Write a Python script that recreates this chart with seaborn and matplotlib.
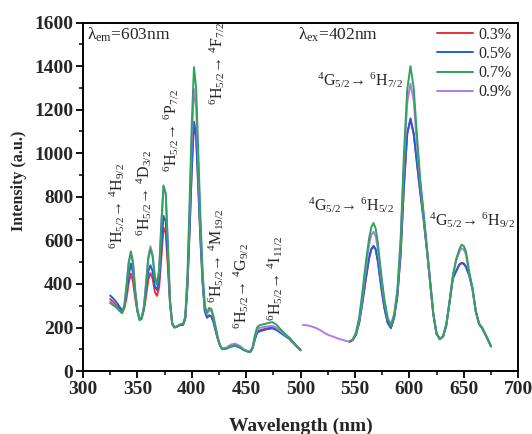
import matplotlib
matplotlib.use("Agg")
import matplotlib.pyplot as plt
import pandas as pd
import seaborn as sns
from matplotlib.ticker import MultipleLocator

sns.set_theme(style="ticks")
plt.rcParams["font.family"] = ["Liberation Serif", "DejaVu Serif"]
plt.rcParams["mathtext.fontset"] = "custom"
plt.rcParams["mathtext.rm"] = "Liberation Serif"
plt.rcParams["mathtext.it"] = "Liberation Serif:italic"
plt.rcParams["mathtext.bf"] = "Liberation Serif:bold"

concentrations = ["0.3%", "0.5%", "0.7%", "0.9%"]
colors = ["#e8303a", "#1e5fd6", "#2ea35c", "#b27ae6"]

# Excitation spectra (monitored at 603 nm)
exc_wl = [325, 328, 331, 334, 336, 338, 340, 342, 344,
          346, 348, 350, 352, 354, 356, 358, 360, 362, 364,
          366, 368, 370, 372, 374, 376, 378, 380, 382, 384,
          386, 388, 390, 392, 394, 396, 398, 400, 402, 404,
          406, 408, 410, 412, 414, 416, 418, 420, 422, 424,
          426, 428,
          432, 436, 440, 444, 448, 452,
          454, 456, 458, 460, 462,
          466, 470, 474, 478, 482, 486, 490, 494, 497, 500]
exc_03 = [330, 316, 300, 282, 270, 288, 335, 405, 447,
          410, 335, 272, 238, 244, 280, 345, 420, 450, 425,
          365, 345, 385, 520, 658, 635, 480, 305, 218, 200,
          202, 208, 212, 212, 240, 388, 648, 935, 1145, 1080,
          845, 602, 402, 276, 246, 256, 252, 226, 185, 148,
          118, 102,
          105, 114, 118, 110, 98, 90,
          90, 108, 148, 178, 186,
          192, 197, 200, 192, 178, 164, 150, 128, 112, 98]
exc_05 = [347, 332, 315, 292, 278, 298, 360, 440, 494,
          450, 355, 278, 240, 248, 288, 372, 458, 486, 458,
          390, 372, 415, 565, 712, 688, 515, 315, 220, 202,
          204, 209, 213, 213, 240, 385, 645, 930, 1140, 1075,
          840, 600, 400, 275, 245, 255, 250, 224, 182, 145,
          116, 100,
          104, 112, 116, 108, 96, 89,
          89, 106, 145, 175, 182,
          188, 193, 196, 188, 174, 160, 146, 125, 110, 97]
exc_07 = [312, 302, 290, 274, 266, 300, 395, 500, 550,
          500, 372, 282, 233, 240, 292, 400, 515, 560, 525,
          430, 396, 465, 680, 852, 818, 585, 325, 215, 200,
          203, 210, 215, 216, 250, 440, 780, 1140, 1395, 1300,
          1000, 700, 450, 300, 268, 290, 285, 250, 200, 152,
          118, 100,
          104, 114, 118, 110, 96, 88,
          88, 112, 165, 200, 210,
          215, 220, 225, 212, 190, 170, 152, 128, 110, 95]
exc_09 = [318, 306, 292, 275, 267, 298, 388, 492, 542,
          492, 368, 280, 235, 244, 300, 410, 525, 573, 535,
          440, 400, 460, 665, 848, 814, 580, 322, 215, 201,
          205, 211, 216, 217, 248, 420, 730, 1065, 1295, 1210,
          935, 660, 430, 295, 262, 280, 275, 244, 196, 150,
          118, 102,
          108, 122, 126, 116, 100, 90,
          90, 110, 158, 190, 198,
          202, 205, 208, 198, 182, 166, 150, 127, 110, 96]

# Emission spectra (excited at 402 nm)
em_wl = [502, 506, 510, 514, 518, 522, 526, 530, 534, 538,
         542, 545, 548, 551, 554, 557, 560, 563, 565, 567,
         569, 571, 574, 577, 580, 583, 586, 589, 592, 595,
         598, 601, 604, 607, 610, 613, 616, 619, 622, 625,
         628, 631, 634, 637, 640, 643, 646, 648, 650, 652,
         655, 658, 661, 664, 667, 670, 673, 675]
em_03 = [None] * 11 + [
         135, 143, 168, 226, 322, 425, 518, 558, 572,
         558, 505, 392, 292, 224, 199, 247, 347, 540, 848,
         1088, 1155, 1088, 953, 820, 700, 560, 410, 262, 171,
         149, 160, 212, 318, 428, 460, 490, 497, 494, 480,
         440, 378, 275, 218, 197, 167, 136, 114]
em_05 = [None] * 11 + [
         135, 143, 168, 225, 320, 425, 520, 560, 575,
         560, 505, 390, 290, 222, 197, 245, 345, 540, 850,
         1090, 1160, 1090, 955, 820, 700, 560, 410, 260, 170,
         148, 158, 210, 315, 425, 458, 488, 495, 492, 478,
         438, 376, 272, 216, 195, 166, 135, 113]
em_07 = [None] * 11 + [
         135, 145, 178, 250, 370, 500, 610, 660, 680,
         655, 590, 450, 330, 245, 205, 255, 370, 610, 1000,
         1290, 1400, 1300, 1080, 880, 730, 575, 420, 265, 172,
         145, 160, 218, 325, 440, 515, 560, 580, 574, 550,
         455, 382, 278, 218, 198, 168, 135, 113]
em_09 = [212, 210, 205, 198, 188, 175, 165, 158, 150, 144,
         138, 135, 145, 175, 240, 350, 470, 580, 625, 640,
         620, 560, 430, 320, 240, 215, 262, 370, 590, 950,
         1230, 1320, 1240, 1040, 860, 720, 570, 415, 262, 172,
         147, 160, 216, 322, 435, 505, 548, 564, 558, 535,
         448, 380, 276, 217, 198, 168, 136, 115]

exc_series = [exc_03, exc_05, exc_07, exc_09]
em_series = [em_03, em_05, em_07, em_09]

fig = plt.figure(figsize=(5.32, 4.34), dpi=100)
ax = fig.add_axes([0.156, 0.145, 0.818, 0.803])

# draw order keeps the 0.7% curve on top of the overlay
for i in [0, 1, 3, 2]:
    exc_df = pd.DataFrame({"wl": exc_wl, "I": exc_series[i]})
    em_df = pd.DataFrame({"wl": em_wl, "I": em_series[i]}).dropna()
    sns.lineplot(data=exc_df, x="wl", y="I", color=colors[i], lw=1.4,
                 ax=ax, label=concentrations[i], estimator=None)
    sns.lineplot(data=em_df, x="wl", y="I", color=colors[i], lw=1.4,
                 ax=ax, legend=False, estimator=None)

ax.set_xlim(300, 700)
ax.set_ylim(0, 1600)
ax.xaxis.set_major_locator(MultipleLocator(50))
ax.xaxis.set_minor_locator(MultipleLocator(25))
ax.yaxis.set_major_locator(MultipleLocator(200))
ax.yaxis.set_minor_locator(MultipleLocator(100))
ax.tick_params(axis="both", which="major", direction="out", length=5, width=1.3,
               labelsize=14, color="black", top=False, right=False, pad=2)
ax.tick_params(axis="both", which="minor", direction="out", length=3, width=1.1,
               color="black", top=False, right=False)
for lab in ax.get_xticklabels() + ax.get_yticklabels():
    lab.set_fontweight("bold")
for sp in ax.spines.values():
    sp.set_visible(True)
    sp.set_color("black")
    sp.set_linewidth(1.4)

ax.set_xlabel("Wavelength (nm)", fontsize=14, fontweight="bold")
ax.set_ylabel("Intensity (a.u.)", fontsize=11.5, fontweight="bold")
ax.xaxis.set_label_coords(0.5, -0.133)
ax.yaxis.set_label_coords(-0.128, 0.545)

handles, labels = ax.get_legend_handles_labels()
order = [labels.index(c) for c in concentrations]
ax.legend([handles[k] for k in order], [labels[k] for k in order],
          loc="upper right", bbox_to_anchor=(1.01, 1.02), frameon=False,
          fontsize=11.5, handlelength=2.3, handletextpad=0.3,
          labelspacing=0.2, borderaxespad=0.3)

ax.text(303.5, 1545, r"$\mathrm{\lambda}_{\rm em}$=603nm", fontsize=12.5, ha="left", va="center")
ax.text(497.5, 1545, r"$\mathrm{\lambda}_{\rm ex}$=402nm", fontsize=12.5, ha="left", va="center")

fs = 11.5
rotated = [
    (331, 757, r"$^{6}$H$_{5/2}$→ $^{4}$H$_{9/2}$"),
    (356, 817, r"$^{6}$H$_{5/2}$→ $^{4}$D$_{3/2}$"),
    (381, 1105, r"$^{6}$H$_{5/2}$→ $^{6}$P$_{7/2}$"),
    (423, 1412, r"$^{6}$H$_{5/2}$→ $^{4}$F$_{7/2}$"),
    (422, 527, r"$^{6}$H$_{5/2}$→ $^{4}$M$_{19/2}$"),
    (445, 390, r"$^{6}$H$_{5/2}$→ $^{4}$G$_{9/2}$"),
    (476.5, 426, r"$^{6}$H$_{5/2}$→ $^{4}$I$_{11/2}$"),
]
for x, y, s in rotated:
    ax.text(x, y, s, fontsize=fs, rotation=90, ha="center", va="center")

flat = [
    (515, 1334, r"$^{4}$G$_{5/2}$→ $^{6}$H$_{7/2}$"),
    (507, 761, r"$^{4}$G$_{5/2}$→ $^{6}$H$_{5/2}$"),
    (618, 692, r"$^{4}$G$_{5/2}$→ $^{6}$H$_{9/2}$"),
]
for x, y, s in flat:
    ax.text(x, y, s, fontsize=fs, ha="left", va="center")

fig.savefig("out.png", dpi=100)
